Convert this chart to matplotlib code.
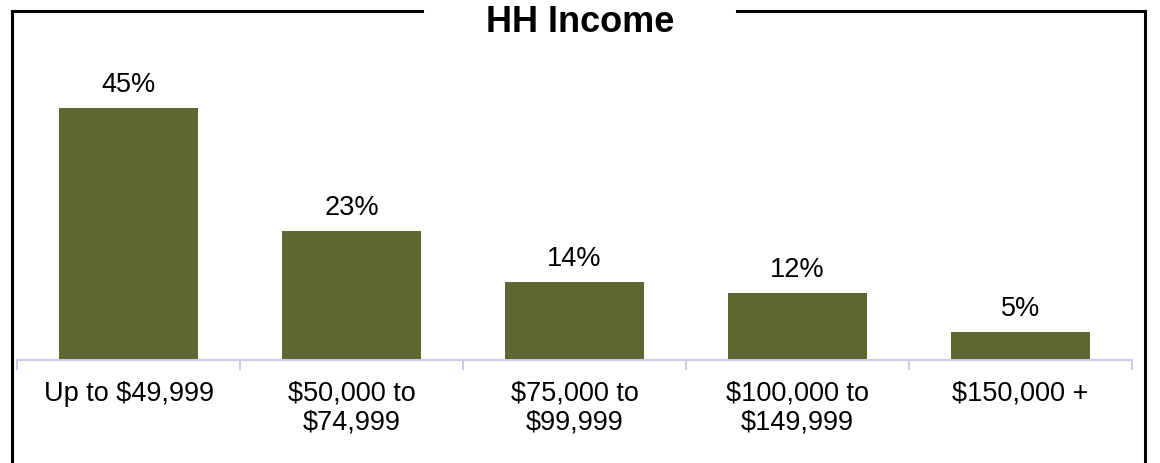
import numpy as np
import matplotlib
matplotlib.use('Agg')
import matplotlib.pyplot as plt
from matplotlib.lines import Line2D

categories = ['Up to $49,999', '$50,000 to\n$74,999', '$75,000 to\n$99,999',
              '$100,000 to\n$149,999', '$150,000 +']
shares = [45, 23, 14, 12, 5]
value_labels = ['45%', '23%', '14%', '12%', '5%']

plt.rcParams['font.family'] = ['Liberation Sans', 'DejaVu Sans']

W, H = 1160, 463
fig = plt.figure(figsize=(W / 100, H / 100), dpi=100)

# axes placed in pixel terms
ax_left, ax_right, ax_bottom, ax_top = 17, 1132, 360, 60
ax = fig.add_axes([ax_left / W, (H - ax_bottom) / H,
                   (ax_right - ax_left) / W, (ax_bottom - ax_top) / H])

x = np.arange(len(categories))
ax.bar(x, shares, width=0.62, color='#5E6631', zorder=2)
for xi, v, lab in zip(x, shares, value_labels):
    ax.text(xi, v + 2.85, lab, ha='center', va='baseline', fontsize=19.5)

ax.set_xlim(-0.5, len(categories) - 0.5)
ax.set_ylim(0, (ax_bottom - ax_top) / 5.6)

for s in ['top', 'right', 'left']:
    ax.spines[s].set_visible(False)
ax.spines['bottom'].set_color('#C8CBEA')
ax.spines['bottom'].set_linewidth(1.5)
ax.set_yticks([])

ax.set_xticks(x)
ax.set_xticklabels(categories, fontsize=19.5, linespacing=1.13)
ax.tick_params(axis='x', which='major', length=0, pad=15)
ax.set_xticks(np.arange(-0.5, len(categories)), minor=True)
ax.tick_params(axis='x', which='minor', length=7, width=1.5, color='#C8CBEA')

# frame around the chart with a gap for the title
lw = 2.2
def px(xp, yp):
    return xp / W, (H - yp) / H

for xs, ys in [((12, 422), (11, 11)), ((737, 1145), (11, 11)),
               ((12, 12), (11, 470)), ((1145, 1145), (11, 470))]:
    (x0, y0), (x1, y1) = px(xs[0], ys[0]), px(xs[1], ys[1])
    fig.add_artist(Line2D([x0, x1], [y0, y1], color='black', lw=lw,
                          solid_capstyle='projecting'))

fig.text(580 / W, (H - 32) / H, 'HH Income', ha='center', va='baseline',
         fontsize=26, fontweight='bold')

fig.savefig('out.png', dpi=100)
